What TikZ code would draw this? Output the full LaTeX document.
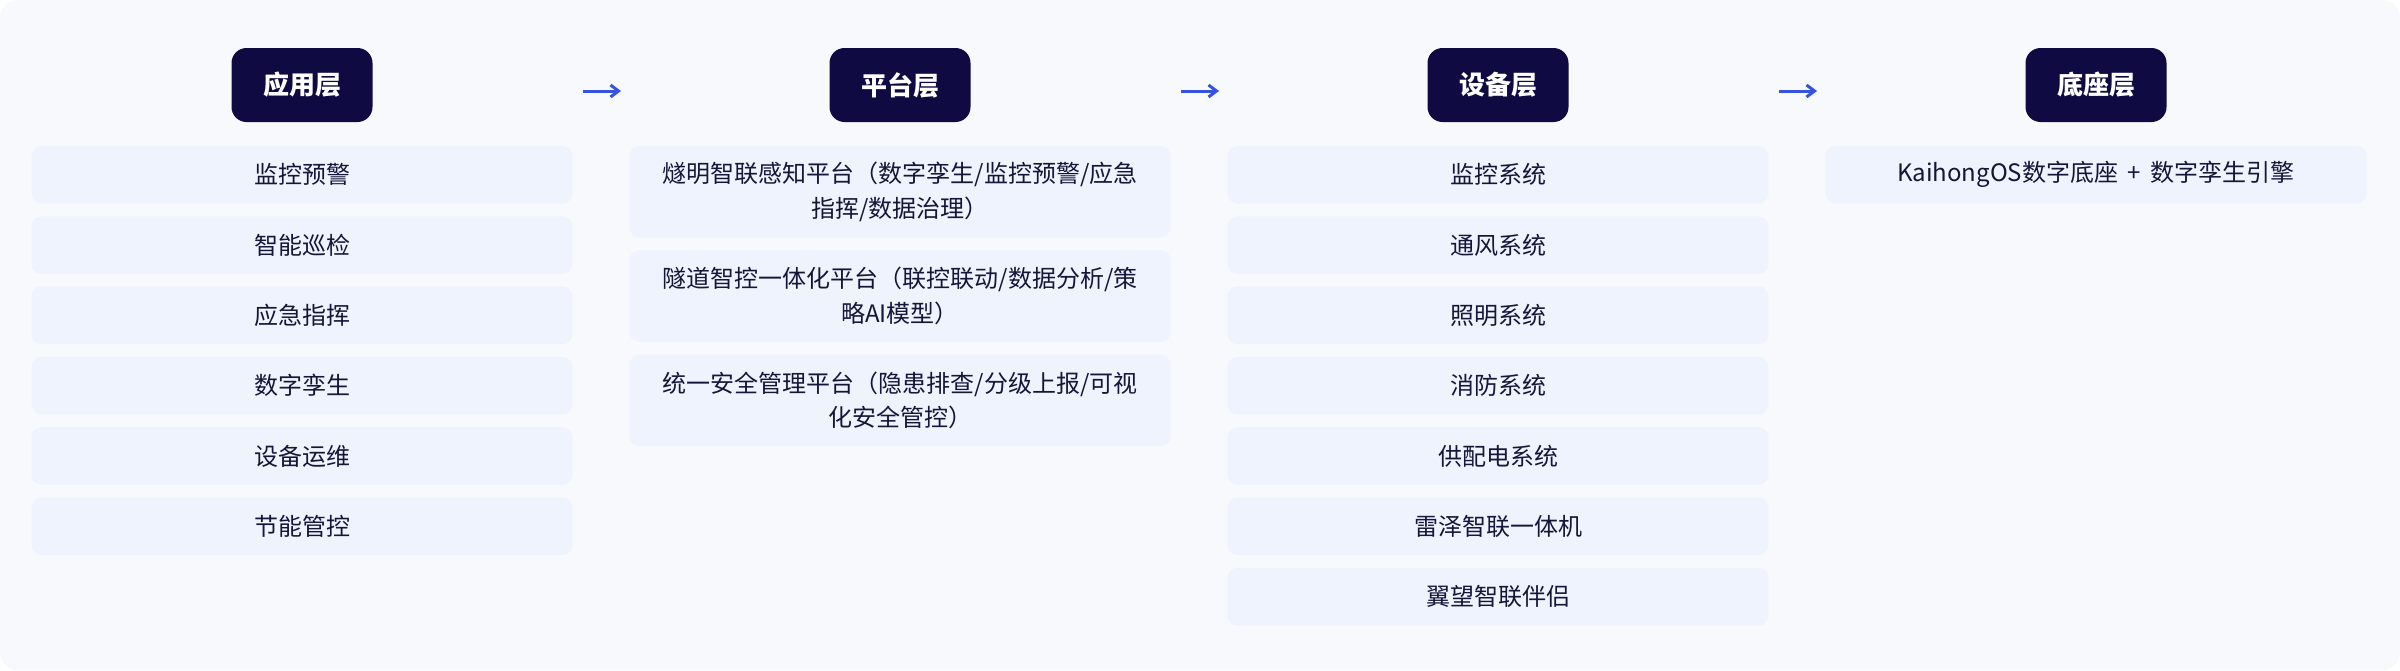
\documentclass[tikz,border=0pt]{standalone}
\usepackage{fontspec}
\setmainfont{Noto Sans CJK SC}
\usepackage{tikz}
\usetikzlibrary{arrows.meta}
\usetikzlibrary{positioning,calc}
\definecolor{panelbg}{HTML}{F7F9FC}
\definecolor{itemfill}{HTML}{EEF3FD}
\definecolor{headnavy}{HTML}{0F0B42}
\definecolor{textnavy}{HTML}{16163A}
\definecolor{flowblue}{HTML}{3552E0}

\begin{document}
\begin{tikzpicture}[x=1pt,y=-1pt,line width=0.8pt,node distance=12pt,
    layer/.style={fill=headnavy,text=white,rounded corners=15pt,inner sep=0pt,
        minimum width=141pt,minimum height=74pt,font=\fontsize{26}{30}\selectfont\bfseries},
    item/.style={fill=itemfill,text=textnavy,rounded corners=10pt,inner sep=0pt,align=center,
        minimum width=541pt,minimum height=57.5pt,font=\fontsize{24}{34.5}\selectfont},
    tallitem/.style={item,minimum height=91.5pt},
    flow/.style={flowblue,line width=3pt,-{Straight Barb[length=8pt,width=12pt]}}]
    \fill[white] (0,0) rectangle (2400,670);
    \fill[panelbg,rounded corners=18pt] (0,0) rectangle (2400,670);

    % layer headers
    \node[layer] (app) at (302,85) {应用层};
    \node[layer] (plat) at (900,85) {平台层};
    \node[layer] (dev) at (1498,85) {设备层};
    \node[layer] (base) at (2096,85) {底座层};

    \coordinate (A1) at (583,91);
    \coordinate (B1) at (621,91);
    \coordinate (A2) at (1181,91);
    \coordinate (B2) at (1219,91);
    \coordinate (A3) at (1779,91);
    \coordinate (B3) at (1817,91);
    \draw[flow] (A1)--(B1);
    \draw[flow] (A2)--(B2);
    \draw[flow] (A3)--(B3);

    % application layer
    \node[item] (app1) at (302,174.75) {监控预警};
    \node[item,below=of app1] (app2) {智能巡检};
    \node[item,below=of app2] (app3) {应急指挥};
    \node[item,below=of app3] (app4) {数字孪生};
    \node[item,below=of app4] (app5) {设备运维};
    \node[item,below=of app5] (app6) {节能管控};

    % platform layer
    \node[tallitem] (plat1) at (900,191.75) {燧明智联感知平台（数字孪生/监控预警/应急\\指挥/数据治理）};
    \node[tallitem,below=of plat1] (plat2) {隧道智控一体化平台（联控联动/数据分析/策\\略AI模型）};
    \node[tallitem,below=of plat2] (plat3) {统一安全管理平台（隐患排查/分级上报/可视\\化安全管控）};

    % device layer
    \node[item] (dev1) at (1498,174.75) {监控系统};
    \node[item,below=of dev1] (dev2) {通风系统};
    \node[item,below=of dev2] (dev3) {照明系统};
    \node[item,below=of dev3] (dev4) {消防系统};
    \node[item,below=of dev4] (dev5) {供配电系统};
    \node[item,below=of dev5] (dev6) {雷泽智联一体机};
    \node[item,below=of dev6] (dev7) {翼望智联伴侣};

    % base layer
    \node[item] (base1) at (2096,174.75) {KaihongOS数字底座\hspace{0.4em}+\hspace{0.4em}数字孪生引擎};
\end{tikzpicture}
\end{document}
